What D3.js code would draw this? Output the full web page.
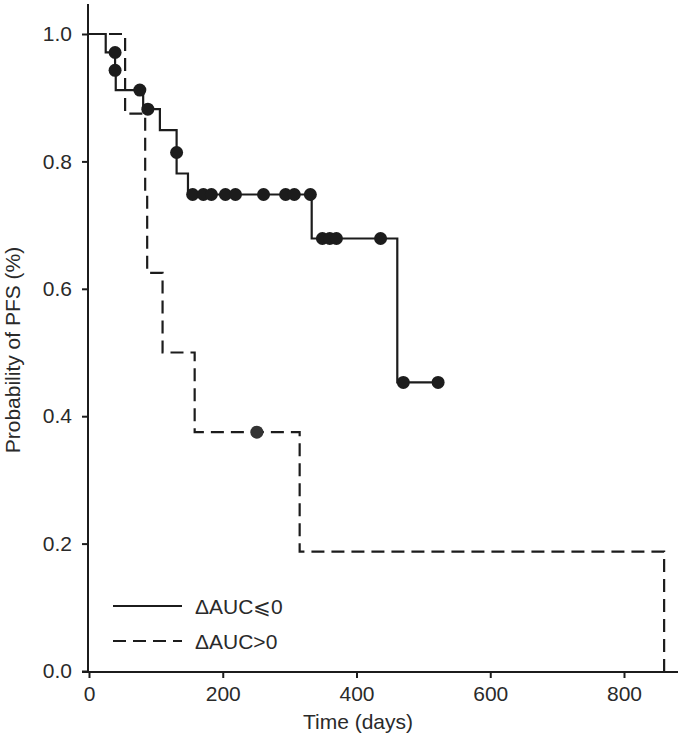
<!DOCTYPE html>
<html>
<head>
<meta charset="utf-8">
<script src="https://cdn.jsdelivr.net/npm/d3@7"></script>
<style>
	body { margin: 0; background: #fff; }
	text { font-family: "Liberation Sans", Arial, "DejaVu Sans", sans-serif; fill: #2a2a2a; }
</style>
</head>
<body>
<svg id="chart" width="678" height="740"></svg>
<script>
// step curves: time (days) where the survival value starts
var lowTimes = [0, 25, 39, 40, 81, 106, 131, 148, 333, 461, 522];
var lowSurv  = [1.0, 0.971, 0.943, 0.912, 0.882, 0.849, 0.781, 0.748, 0.679, 0.453, 0.453];
var lowCensTimes = [39, 39, 76, 88, 131, 155, 171, 183, 204, 219, 261, 294, 307, 331, 349, 360, 370, 436, 470, 522];
var lowCensSurv  = [0.971, 0.943, 0.912, 0.882, 0.814, 0.748, 0.748, 0.748, 0.748, 0.748, 0.748, 0.748, 0.748, 0.748, 0.679, 0.679, 0.679, 0.679, 0.453, 0.453];

var highTimes = [0, 54, 84, 87, 110, 158, 315, 860];
var highSurv  = [1.0, 0.875, 0.75, 0.625, 0.5, 0.375, 0.1875, 0];
var highCensTimes = [251];
var highCensSurv  = [0.375];

var xTicks = [0, 200, 400, 600, 800];
var yTicks = [0, 0.2, 0.4, 0.6, 0.8, 1.0];
var legendLabels = ["\u0394AUC\u2A7D0", "\u0394AUC>0"];

var svg = d3.select("#chart");
var x = d3.scaleLinear().domain([0, 800]).range([89, 624]);
var y = d3.scaleLinear().domain([0, 1]).range([671, 34]);
var ink = "#1c1c1c";

// axes
var xAxis = svg.append("g").attr("transform", "translate(0,672)")
	.call(d3.axisBottom(x).tickValues(xTicks).tickSize(6).tickPadding(8).tickFormat(d3.format("d")));
xAxis.select(".domain").remove();
xAxis.selectAll("line").attr("stroke", ink).attr("stroke-width", 2);
xAxis.selectAll("text").attr("font-size", 21).attr("font-family", null).attr("fill", "#2a2a2a");
svg.append("line").attr("x1", 82).attr("x2", 678).attr("y1", 672).attr("y2", 672)
	.attr("stroke", ink).attr("stroke-width", 2);

var yAxis = svg.append("g").attr("transform", "translate(88,0)")
	.call(d3.axisLeft(y).tickValues(yTicks).tickSize(6).tickPadding(10).tickFormat(d3.format(".1f")));
yAxis.select(".domain").remove();
yAxis.selectAll("line").attr("stroke", ink).attr("stroke-width", 2);
yAxis.selectAll("text").attr("font-size", 21).attr("font-family", null).attr("fill", "#2a2a2a");
svg.append("line").attr("x1", 88).attr("x2", 88).attr("y1", 4).attr("y2", 672)
	.attr("stroke", ink).attr("stroke-width", 2);

svg.append("text").attr("x", 358).attr("y", 729).attr("text-anchor", "middle")
	.attr("font-size", 21).text("Time (days)");
svg.append("text").attr("transform", "translate(20,350) rotate(-90)").attr("text-anchor", "middle")
	.attr("font-size", 21).text("Probability of PFS (%)");

// curves
var line = d3.line().curve(d3.curveStepAfter)
	.x(function(d) { return x(d[0]); })
	.y(function(d) { return y(d[1]); });

var highPts = highTimes.map(function(t, i) { return [t, highSurv[i]]; });
var lowPts = lowTimes.map(function(t, i) { return [t, lowSurv[i]]; });

svg.append("path").attr("d", line(highPts)).attr("fill", "none")
	.attr("stroke", ink).attr("stroke-width", 2.2).attr("stroke-dasharray", "13,7");
svg.append("path").attr("d", line(lowPts)).attr("fill", "none")
	.attr("stroke", ink).attr("stroke-width", 2.2);

svg.selectAll(".cens-low").data(lowCensTimes).enter().append("circle")
	.attr("class", "cens-low")
	.attr("cx", function(d) { return x(d); })
	.attr("cy", function(d, i) { return y(lowCensSurv[i]); })
	.attr("r", 6.5).attr("fill", ink);
svg.selectAll(".cens-high").data(highCensTimes).enter().append("circle")
	.attr("class", "cens-high")
	.attr("cx", function(d) { return x(d); })
	.attr("cy", function(d, i) { return y(highCensSurv[i]); })
	.attr("r", 6.5).attr("fill", "#333");

// legend
var leg = svg.append("g");
legendLabels.forEach(function(lab, i) {
	var ly = 606 + i * 35;
	leg.append("line").attr("x1", 113).attr("x2", 182).attr("y1", ly).attr("y2", ly)
		.attr("stroke", ink).attr("stroke-width", 2.2)
		.attr("stroke-dasharray", i == 1 ? "13,7" : null);
	leg.append("text").attr("x", 195).attr("y", ly + 8).attr("font-size", 21).text(lab);
});
</script>
</body>
</html>
